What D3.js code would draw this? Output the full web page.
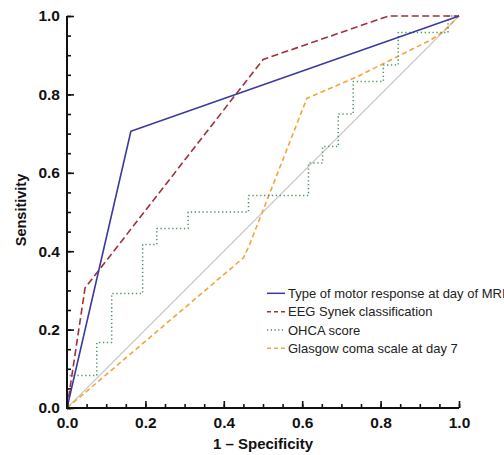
<!DOCTYPE html>
<html>
<head>
<meta charset="utf-8">
<script src="https://cdn.jsdelivr.net/npm/d3@7"></script>
<style>
  html, body { margin: 0; padding: 0; background: #fff; }
  svg { display: block; }
  .tick text { font-family: "Liberation Sans", Arial, Helvetica, sans-serif; font-weight: bold; font-size: 15.5px; fill: #111; }
  .title { font-family: "Liberation Sans", Arial, Helvetica, sans-serif; font-weight: bold; font-size: 15px; fill: #111; }
  .legend text { font-family: "Liberation Sans", Arial, Helvetica, sans-serif; font-size: 13px; fill: #222; }
</style>
</head>
<body>
<script>
// ROC curves: 1 - specificity (false positive rate) vs sensitivity
const motorFpr = [0, 0.163, 1];
const motorTpr = [0, 0.706, 1];

const eegFpr = [0, 0.046, 0.5, 0.82, 1];
const eegTpr = [0, 0.306, 0.889, 1, 1];

// OHCA score is drawn as a step curve (vertical move first, then horizontal)
const ohcaFpr = [0, 0.076, 0.114, 0.193, 0.229, 0.309, 0.463, 0.616, 0.652, 0.692, 0.730, 0.807, 0.845, 0.972, 1];
const ohcaTpr = [0, 0.083, 0.167, 0.292, 0.417, 0.458, 0.500, 0.542, 0.625, 0.667, 0.750, 0.833, 0.875, 0.958, 1];

const gcsFpr = [0, 0.45, 0.465, 0.612, 0.74, 0.84, 0.93, 0.96, 1];
const gcsTpr = [0, 0.383, 0.415, 0.79, 0.845, 0.895, 0.94, 0.96, 1];

const majorTicks = [0, 0.2, 0.4, 0.6, 0.8, 1.0];
const minorTicks = d3.range(0, 1.0001, 0.05);

const legendLabels = [
  "Type of motor response at day of MRI",
  "EEG Synek classification",
  "OHCA score",
  "Glasgow coma scale at day 7"
];

const W = 504, H = 455;
const svg = d3.select("body").append("svg").attr("width", W).attr("height", H);

const x = d3.scaleLinear().domain([0, 1]).range([67, 459]);
const y = d3.scaleLinear().domain([0, 1]).range([408, 16]);

const series = [
  { fpr: motorFpr, tpr: motorTpr, color: "#3b3b9e", dash: null, width: 1.6, curve: d3.curveLinear },
  { fpr: eegFpr, tpr: eegTpr, color: "#a0303a", dash: "7,3.5", width: 1.6, curve: d3.curveLinear },
  { fpr: ohcaFpr, tpr: ohcaTpr, color: "#4f9460", dash: "1.3,2.6", width: 1.5, curve: d3.curveStepBefore },
  { fpr: gcsFpr, tpr: gcsTpr, color: "#f3a43a", dash: "5,3.2", width: 1.6, curve: d3.curveLinear }
];

// reference diagonal
svg.append("path")
  .attr("d", d3.line()([[x(0), y(0)], [x(1), y(1)]]))
  .attr("stroke", "#c8c8c8").attr("stroke-width", 1.1).attr("fill", "none");

// curves (drawn so the motor response line sits on top)
const drawOrder = [3, 2, 1, 0];
drawOrder.forEach(i => {
  const s = series[i];
  const pts = s.fpr.map((f, j) => [f, s.tpr[j]]);
  const line = d3.line().x(d => x(d[0])).y(d => y(d[1])).curve(s.curve);
  svg.append("path")
    .attr("d", line(pts))
    .attr("fill", "none")
    .attr("stroke", s.color)
    .attr("stroke-width", s.width)
    .attr("stroke-dasharray", s.dash)
    .attr("stroke-linejoin", "round");
});

// axes with inward ticks
const fmt = d3.format(".1f");
const yMinor = svg.append("g").attr("transform", `translate(${x(0)},0)`)
  .call(d3.axisLeft(y).tickValues(minorTicks).tickSize(-4).tickFormat(""));
const yMajor = svg.append("g").attr("transform", `translate(${x(0)},0)`)
  .call(d3.axisLeft(y).tickValues(majorTicks).tickSize(-7).tickPadding(7).tickFormat(fmt));
const xMinor = svg.append("g").attr("transform", `translate(0,${y(0)})`)
  .call(d3.axisBottom(x).tickValues(minorTicks).tickSize(-4).tickFormat(""));
const xMajor = svg.append("g").attr("transform", `translate(0,${y(0)})`)
  .call(d3.axisBottom(x).tickValues(majorTicks).tickSize(-7).tickPadding(9).tickFormat(fmt));

[yMinor, yMajor, xMinor, xMajor].forEach(g => {
  g.select(".domain").remove();
  g.selectAll(".tick line").attr("stroke", "#111").attr("stroke-width", 1.6);
});

// axis lines
svg.append("path")
  .attr("d", d3.line()([[x(0), y(1)], [x(0), y(0)], [x(1), y(0)]]))
  .attr("fill", "none").attr("stroke", "#111").attr("stroke-width", 2);

// axis titles
svg.append("text").attr("class", "title")
  .attr("x", 263).attr("y", 449).attr("text-anchor", "middle")
  .text("1 – Specificity");
svg.append("text").attr("class", "title")
  .attr("transform", `translate(26,210) rotate(-90)`)
  .attr("text-anchor", "middle")
  .style("font-size", "14.5px")
  .text("Sensitivity");

// legend
const legend = svg.append("g").attr("class", "legend");
const rowY = d3.scaleLinear().domain([0, 3]).range([293.3, 348.3]);
series.forEach((s, i) => {
  const ry = rowY(i);
  legend.append("line")
    .attr("x1", 267).attr("x2", 285).attr("y1", ry).attr("y2", ry)
    .attr("stroke", s.color).attr("stroke-width", 1.5)
    .attr("stroke-dasharray", s.dash === null ? null : (i === 2 ? "1.3,2.4" : "4,3"));
  legend.append("text")
    .attr("x", 288).attr("y", ry).attr("dy", "0.36em")
    .text(legendLabels[i]);
});
</script>
</body>
</html>
